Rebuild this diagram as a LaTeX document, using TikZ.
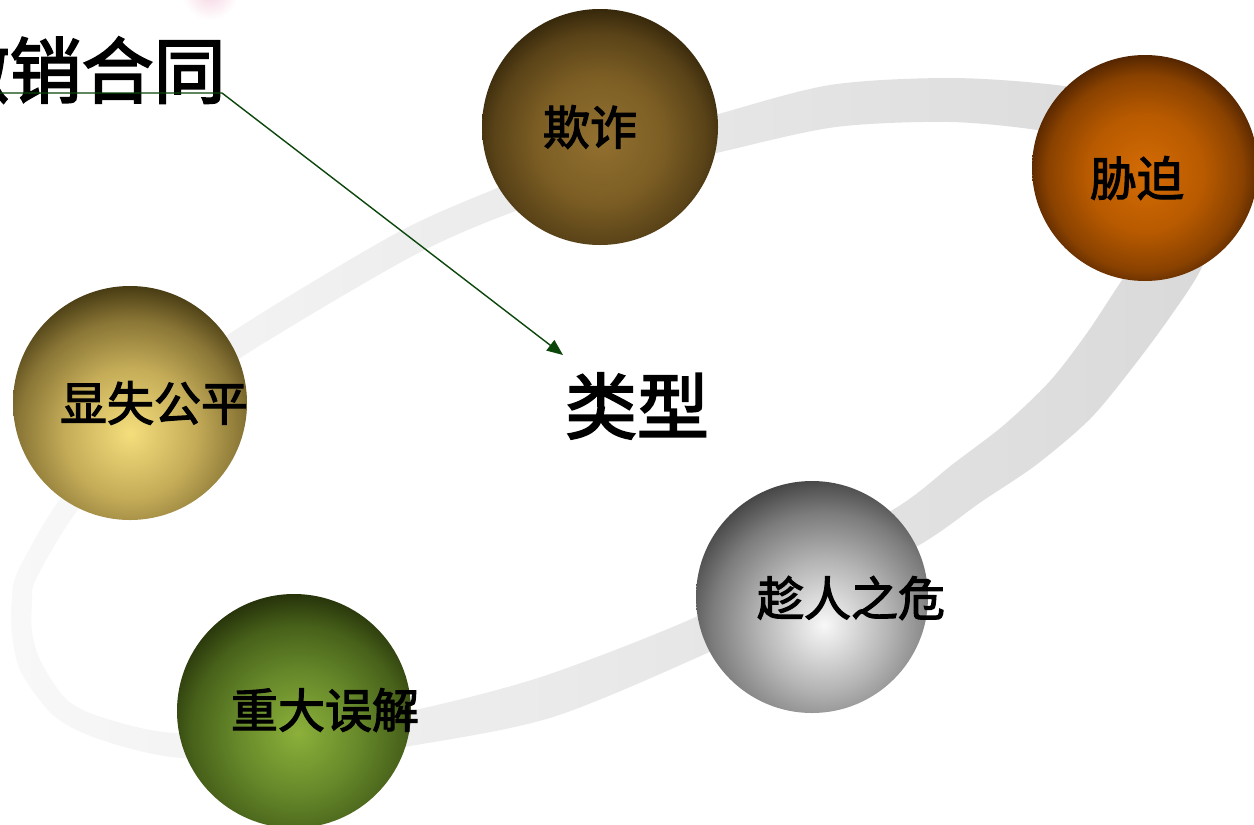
\documentclass[tikz,border=0pt]{standalone}
\usepackage{fontspec}
\newfontfamily\cjk{Noto Sans CJK SC}[FakeBold=2.6]
\usetikzlibrary{arrows.meta,calc}
\definecolor{bandL}{HTML}{F8F8F8}
\definecolor{bandR}{HTML}{D9D9D9}
\definecolor{arrowgreen}{HTML}{0B460B}
\definecolor{blobpink}{RGB}{246,212,226}
% ball colours
\definecolor{qzhi}{HTML}{927030}\definecolor{qzmid}{HTML}{7C5E24}\definecolor{qzmd}{HTML}{5A4318}\definecolor{qzdk}{HTML}{34260A}
\definecolor{xphi}{HTML}{D46C04}\definecolor{xpmid}{HTML}{B85A00}\definecolor{xpmd}{HTML}{8A4200}\definecolor{xpdk}{HTML}{4A2000}
\definecolor{xshi}{HTML}{F4DE7C}\definecolor{xsmid}{HTML}{C4AC58}\definecolor{xsmd}{HTML}{8A7636}\definecolor{xsdk}{HTML}{463A12}
\definecolor{crhi}{HTML}{F8F8F8}\definecolor{crmid}{HTML}{B4B4B4}\definecolor{crmd}{HTML}{7C7C7C}\definecolor{crdk}{HTML}{444444}
\definecolor{zdhi}{HTML}{8CB03A}\definecolor{zdmid}{HTML}{66882A}\definecolor{zdmd}{HTML}{48621A}\definecolor{zddk}{HTML}{26320A}
\pgfdeclareradialshading{shQZ}{\pgfpointorigin}{color(0bp)=(qzhi); color(12bp)=(qzmid); color(20bp)=(qzmd); color(25bp)=(qzdk); color(50bp)=(qzdk)}
\pgfdeclareradialshading{shXP}{\pgfpointorigin}{color(0bp)=(xphi); color(12bp)=(xpmid); color(20bp)=(xpmd); color(25bp)=(xpdk); color(50bp)=(xpdk)}
\pgfdeclareradialshading{shXS}{\pgfpointorigin}{color(0bp)=(xshi); color(11bp)=(xsmid); color(19bp)=(xsmd); color(25bp)=(xsdk); color(50bp)=(xsdk)}
\pgfdeclareradialshading{shCR}{\pgfpointorigin}{color(0bp)=(crhi); color(11bp)=(crmid); color(19bp)=(crmd); color(25bp)=(crdk); color(50bp)=(crdk)}
\pgfdeclareradialshading{shZD}{\pgfpointorigin}{color(0bp)=(zdhi); color(11bp)=(zdmid); color(19bp)=(zdmd); color(25bp)=(zddk); color(50bp)=(zddk)}
\tikzset{
  ball/.style n args={5}{circle, inner sep=0pt, minimum size=#1,
    path picture={\shade[shading=#2] ($(path picture bounding box.center)+(#3,#4)$) circle (#5);}},
  lbl/.style={font=\cjk\fontsize{23.5pt}{26pt}\selectfont, inner sep=0pt, text=black},
  bigtxt/.style={font=\cjk\fontsize{36pt}{40pt}\selectfont, inner sep=0pt, text=black},
  titletxt/.style={font=\cjk\fontsize{36pt}{40pt}\selectfont, inner sep=0pt, text=black},
  conn/.style={draw=arrowgreen, line width=0.7pt, -{Triangle[length=8pt,width=6.5pt]}},
}
\begin{document}
\begin{tikzpicture}[x=0.5pt,y=-0.5pt]
\useasboundingbox (0,0) rectangle (1254,825);
\fill[white] (0,0) rectangle (1254,825);
% faint pink blob at the top edge
\shade[inner color=blobpink, outer color=white] (210,-8) circle (28);
% the ring
\shade[even odd rule, left color=bandL, right color=bandR]
  plot[smooth cycle] coordinates {(12,634) (12,599) (18,571) (58,502) (132,410) (226,336) (393,235) (495,189) (605,147) (715,115) (830,85) (950,78) (1056,85) (1140,101) (1202,143) (1222,211) (1201,269) (1170,317) (1133,367) (1090,419) (1036,465) (981,502) (921,544) (809,603) (705,654) (553,717) (416,745) (295,761) (172,757) (96,738) (53,715) (21,672)}
  plot[smooth cycle] coordinates {(32,632) (32,601) (36,579) (76,512) (148,426) (240,358) (407,259) (505,215) (615,179) (725,151) (836,127) (950,122) (1044,131) (1120,149) (1158,177) (1164,209) (1149,241) (1120,283) (1087,333) (1050,381) (1004,425) (953,464) (899,506) (791,567) (689,620) (541,677) (410,711) (293,729) (174,733) (104,718) (67,700) (41,662)};
% balls
\node[ball={118pt}{shQZ}{0}{12}{132}] (bQZ) at (600,127) {};
\node[ball={113pt}{shXP}{0}{5}{122}] (bXP) at (1145,168) {};
\node[ball={117pt}{shXS}{0}{30}{148}] (bXS) at (130,403) {};
\node[ball={116pt}{shCR}{12}{28}{148}] (bCR) at (812,597) {};
\node[ball={117pt}{shZD}{4}{22}{140}] (bZD) at (294,711) {};
% labels
\node[lbl] (tQZ) at (590,127) {欺诈};
\node[lbl] (tXP) at (1137,178) {胁迫};
\node[lbl] (tXS) at (154,403) {显失公平};
\node[lbl] (tCR) at (851,598) {趁人之危};
\node[lbl] (tZD) at (325,710) {重大误解};
\node[bigtxt] (tLX) at (637,406) {类型};
\node[titletxt, anchor=east] (tCX) at (226,70) {撤销合同};
% connector
\coordinate (aBend) at (222,93);
\coordinate (aEnd) at (563,355);
\draw[conn] (tCX.west |- aBend) -- (aBend) -- (aEnd);
\end{tikzpicture}
\end{document}
